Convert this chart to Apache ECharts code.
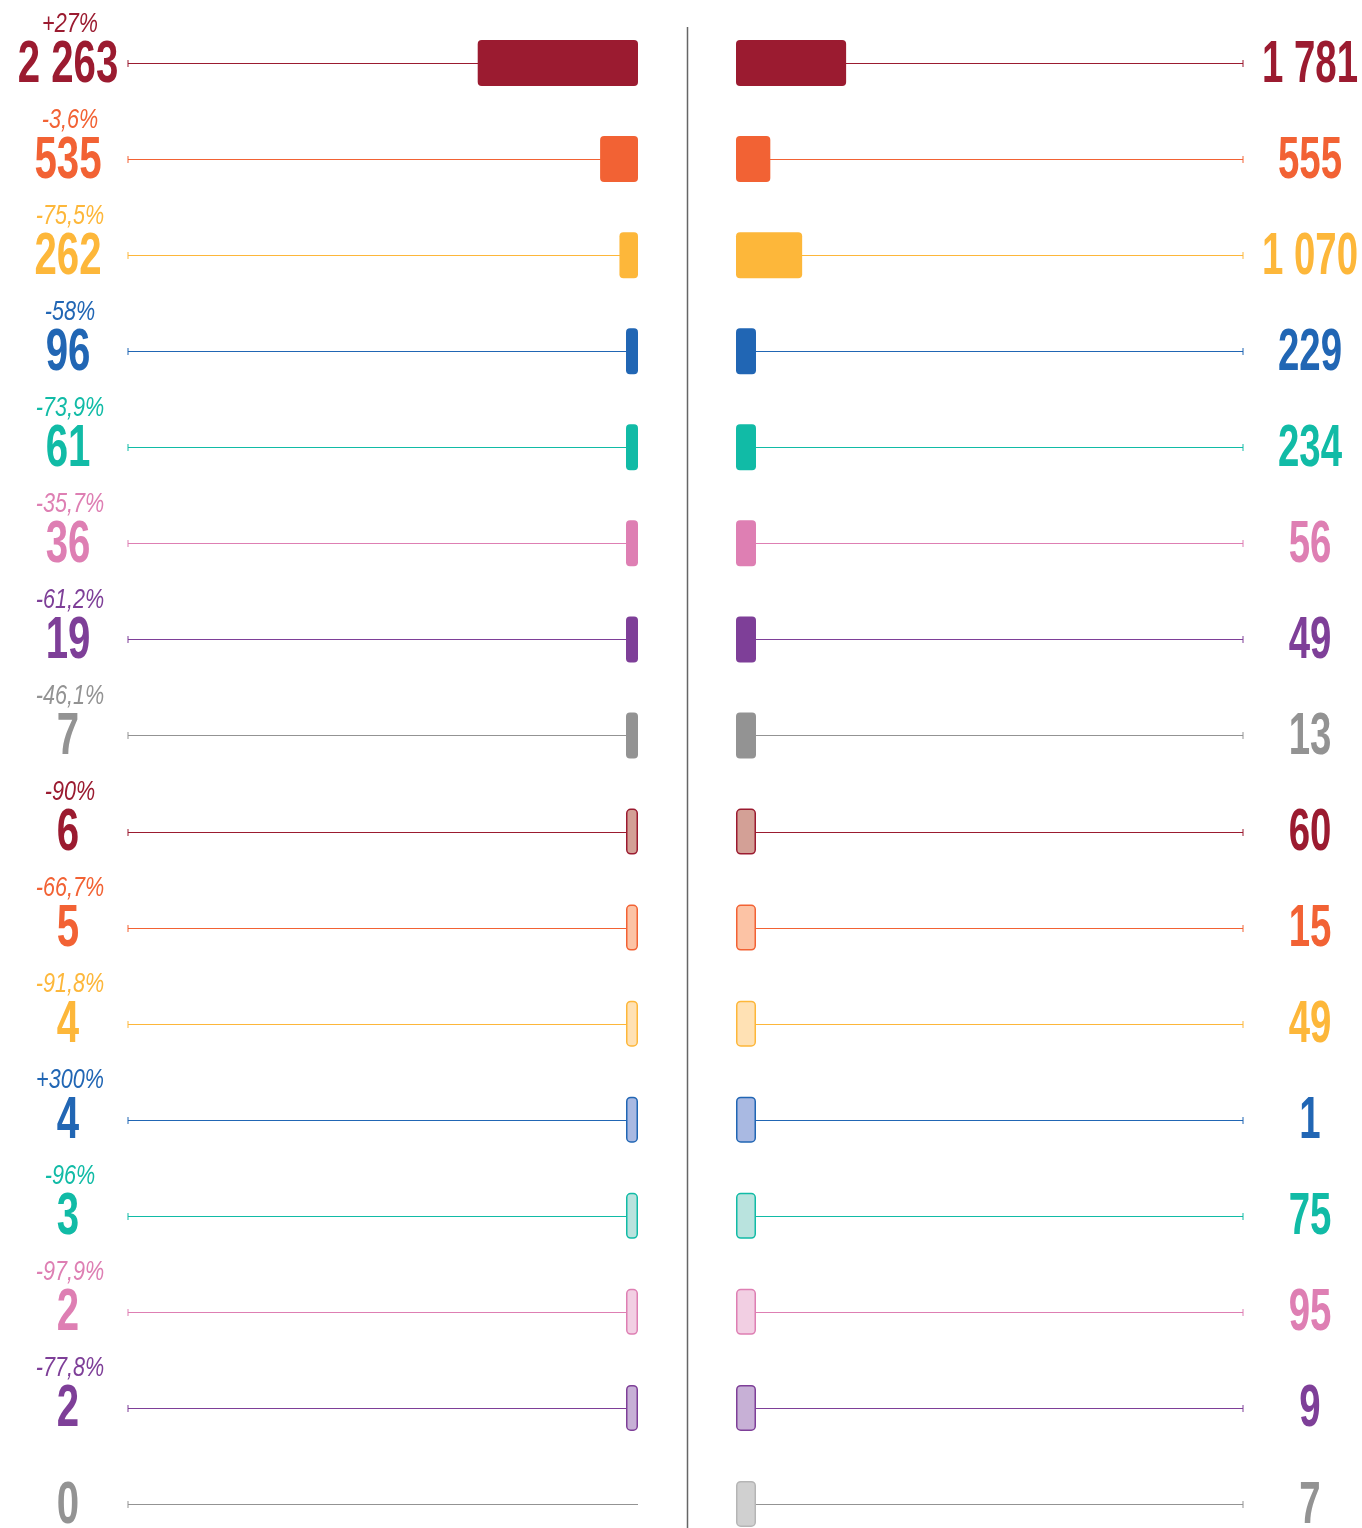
<!DOCTYPE html>
<html>
<head>
<meta charset="utf-8">
<script src="https://cdn.jsdelivr.net/npm/echarts@6/dist/echarts.min.js"></script>
<style>
  html, body { margin: 0; padding: 0; background: #fff; }
  #chart { width: 1362px; height: 1528px; }
</style>
</head>
<body>
<div id="chart"></div>
<script>
// row ids (top to bottom)
const rows = ['r1', 'r2', 'r3', 'r4', 'r5', 'r6', 'r7', 'r8', 'r9', 'r10', 'r11', 'r12', 'r13', 'r14', 'r15', 'r16']

// left side values + change labels
const leftValues = [2263, 535, 262, 96, 61, 36, 19, 7, 6, 5, 4, 4, 3, 2, 2, 0]
const leftLabels = ['2 263', '535', '262', '96', '61', '36', '19', '7', '6', '5', '4', '4', '3', '2', '2', '0']
const changeLabels = ['+27%', '-3,6%', '-75,5%', '-58%', '-73,9%', '-35,7%', '-61,2%', '-46,1%',
  '-90%', '-66,7%', '-91,8%', '+300%', '-96%', '-97,9%', '-77,8%', '']

// right side values
const rightValues = [1781, 555, 1070, 229, 234, 56, 49, 13, 60, 15, 49, 1, 75, 95, 9, 7]
const rightLabels = ['1 781', '555', '1 070', '229', '234', '56', '49', '13', '60', '15', '49', '1', '75', '95', '9', '7']

// palette
const solid = ['#9B1B30', '#F26234', '#FDB73A', '#2166B4', '#11BBA6', '#DE7FB3', '#7E3F98', '#939393']
const light = ['#D3A096', '#FCC3A5', '#FFE1B4', '#A9B9E2', '#B9E3DE', '#F2CFE3', '#C7B0D6', '#D0D0D0']

const numFont = "bold 60px 'Liberation Sans', Arimo, 'DejaVu Sans', sans-serif"
const pctFont = "italic 27px 'Liberation Sans', Arimo, 'DejaVu Sans', sans-serif"

const rowColor = i => solid[i % 8]
const rowFill = i => (i < 8 ? solid[i] : light[i - 8])
const rowBorder = i => (i < 8 ? 'transparent' : (i === 15 ? '#B5B5B5' : solid[i - 8]))

const chart = echarts.init(document.getElementById('chart'), null, { renderer: 'canvas' })

const barItems = (vals) => vals.map((v, i) => ({
  value: v === 0 ? '-' : v,
  itemStyle: {
    color: rowFill(i),
    borderColor: rowBorder(i),
    borderWidth: i < 8 ? 0 : 1.5,
    borderRadius: 4
  }
}))

// condensed-looking label (squeezed horizontally)
const squeezed = (text, cx, cy, font, color, sx) => ({
  type: 'text',
  x: cx, y: cy, scaleX: sx,
  style: { text, x: 0, y: 0, align: 'center', verticalAlign: 'middle', font, fill: color }
})

// thin guide line per row, end tick on the outer side, plus the row labels
const trackSeries = (idx, isLeft) => ({
  type: 'custom',
  xAxisIndex: idx,
  yAxisIndex: idx,
  silent: true,
  z: 1,
  data: rows.map((_, i) => [0, i]),
  renderItem: (params, api) => {
    const i = api.value(1)
    const cs = params.coordSys
    const yc = api.coord([0, i])[1]
    const y = Math.round(yc) + 0.5
    const x0 = cs.x, x1 = cs.x + cs.width
    const tx = isLeft ? x0 : x1
    const style = { stroke: rowColor(i), lineWidth: 1 }
    const children = [
      { type: 'line', shape: { x1: x0, y1: y, x2: x1, y2: y }, style },
      { type: 'line', shape: { x1: tx, y1: y - 3.5, x2: tx, y2: y + 3.5 }, style }
    ]
    if (isLeft) {
      children.push(squeezed(leftLabels[i], x0 - 60, yc + 2, numFont, rowColor(i), 0.67))
      if (changeLabels[i]) {
        children.push(squeezed(changeLabels[i], x0 - 58, yc - 39, pctFont, rowColor(i), 0.8))
      }
    } else {
      children.push(squeezed(rightLabels[i], x1 + 67, yc + 2, numFont, rowColor(i), 0.64))
    }
    return { type: 'group', children }
  }
})

const option = {
  animation: false,
  backgroundColor: '#fff',
  grid: [
    { left: 128, width: 510, top: 15, height: 1537, outerBoundsMode: 'none' },
    { left: 736, width: 507, top: 15, height: 1537, outerBoundsMode: 'none' }
  ],
  xAxis: [
    { type: 'value', gridIndex: 0, inverse: true, min: 0, max: 7200, show: false },
    { type: 'value', gridIndex: 1, min: 0, max: 8200, show: false }
  ],
  yAxis: [
    { type: 'category', gridIndex: 0, data: rows, inverse: true, show: false },
    { type: 'category', gridIndex: 1, data: rows, inverse: true, show: false }
  ],
  graphic: [
    {
      type: 'line', silent: true,
      shape: { x1: 687.5, y1: 27, x2: 687.5, y2: 1528 },
      style: { stroke: '#666', lineWidth: 1.5 }
    }
  ],
  series: [
    trackSeries(0, true),
    trackSeries(1, false),
    {
      type: 'bar', xAxisIndex: 0, yAxisIndex: 0, z: 2,
      barWidth: 46, barMinHeight: 12,
      data: barItems(leftValues)
    },
    {
      type: 'bar', xAxisIndex: 1, yAxisIndex: 1, z: 2,
      barWidth: 46, barMinHeight: 20,
      data: barItems(rightValues)
    }
  ]
}

chart.setOption(option)
window.addEventListener('resize', () => chart.resize())
</script>
</body>
</html>
